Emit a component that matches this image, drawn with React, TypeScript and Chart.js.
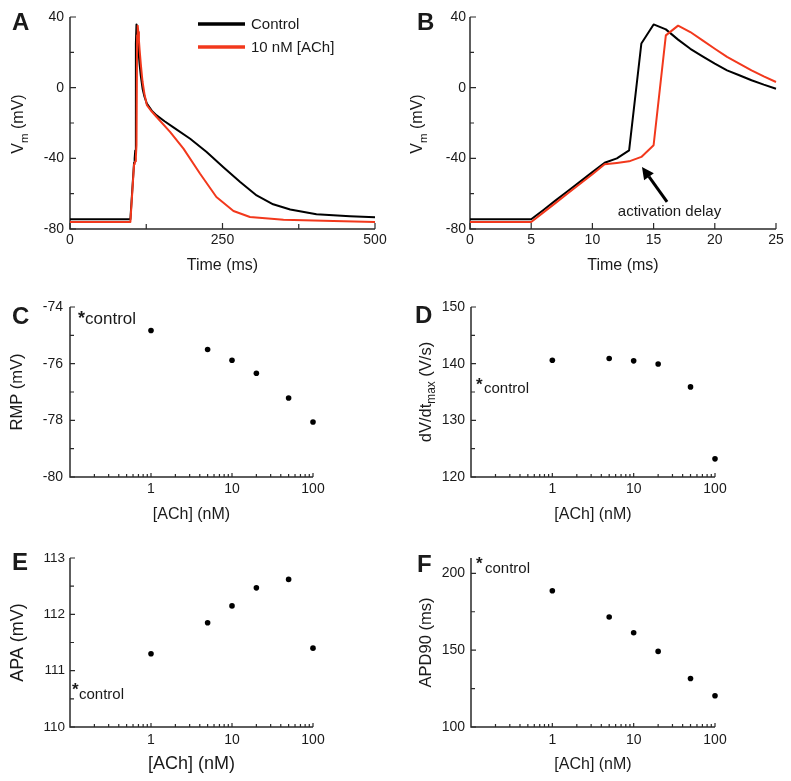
import React, { useEffect, useRef } from 'react';
import { Chart, registerables } from 'chart.js';

Chart.register(...registerables);

const FONT = '"Liberation Sans", Arial, Helvetica, sans-serif';
const INK = '#1a1a1a';
const AXIS = '#2a2a2a';
const BLACK = '#000000';
const RED = '#f2381c';

Chart.defaults.font.family = FONT;
Chart.defaults.color = INK;

// ---------- Panel A: full action potential (0-500 ms) ----------
const A_TIME_CONTROL = [0, 99, 105, 106, 107, 108, 109, 110, 111, 112, 114, 116, 119, 122, 126, 134, 142, 155, 169, 197, 224, 251, 279, 306, 333, 361, 404, 459, 500];
const A_VM_CONTROL = [-74.5, -74.5, -42.5, -40, -35.5, 25, 35.8, 33, 27.2, 22, 13.6, 7, -0.6, -5, -9, -13, -15.7, -19, -22.3, -28.9, -36.4, -44.9, -53.4, -61, -66, -69, -71.7, -72.8, -73.4];
const A_TIME_ACH = [0, 99, 105, 106, 107, 108, 109, 110, 111, 112, 113, 114, 116, 118, 119, 122, 126, 134, 142, 164, 186, 213, 240, 268, 295, 350, 432, 500];
const A_VM_ACH = [-76, -76, -43.4, -42.6, -41.7, -39.2, -32.6, 29.6, 35.1, 31.5, 26.8, 22, 13.6, 6.4, 3.2, -3.5, -9.9, -13.5, -16.6, -25, -34.5, -48.6, -61.9, -69.8, -73.2, -74.7, -75.5, -76];

// ---------- Panel B: upstroke detail (0-25 ms) ----------
const B_TIME_CONTROL = [0, 5, 6, 7, 8, 9, 10, 11, 12, 13, 14, 15, 16, 17, 18, 19, 20, 21, 22, 23, 24, 25];
const B_VM_CONTROL = [-74.5, -74.5, -69.2, -63.8, -58.5, -53.2, -47.8, -42.5, -40, -35.5, 25, 35.8, 33, 27.2, 22, 17.7, 13.6, 9.8, 7, 4.2, 1.7, -0.6];
const B_TIME_ACH = [0, 5, 6, 7, 8, 9, 10, 11, 12, 13, 14, 15, 16, 17, 18, 19, 20, 21, 22, 23, 24, 25];
const B_VM_ACH = [-76, -76, -70.6, -65.2, -59.8, -54.4, -49, -43.4, -42.6, -41.7, -39.2, -32.6, 29.6, 35.1, 31.5, 26.8, 22, 17.4, 13.6, 9.8, 6.4, 3.2];

// ---------- Panels C-F: dependence on [ACh] ----------
const ACH_NM = [1, 5, 10, 20, 50, 100];
const RMP_MV = [-74.83, -75.5, -75.88, -76.34, -77.21, -78.06];
const DVDT_MAX = [140.6, 140.9, 140.5, 139.95, 135.9, 123.2];
const APA_MV = [111.3, 111.85, 112.15, 112.47, 112.62, 111.4];
const APD90_MS = [188.7, 171.6, 161.3, 149.2, 131.6, 120.3];

// control levels (marked with *control on the y axis)
const CONTROL_RMP = -74.35;
const CONTROL_DVDT = 136.6;
const CONTROL_APA = 110.7;
const CONTROL_APD90 = 207.6;

// ---------- ticks ----------
const A_X_TICKS = [0, 125, 250, 375, 500];
const A_X_LABELS = [0, 250, 500];
const B_X_TICKS = [0, 5, 10, 15, 20, 25];
const B_X_LABELS = [0, 5, 10, 15, 20, 25];
const VM_TICKS = [-80, -60, -40, -20, 0, 20, 40];
const VM_LABELS = [-80, -40, 0, 40];
const LOG_TICKS = [0.2, 0.3, 0.4, 0.5, 0.6, 0.7, 0.8, 0.9, 1, 2, 3, 4, 5, 6, 7, 8, 9, 10, 20, 30, 40, 50, 60, 70, 80, 90, 100];
const LOG_LABELS = [1, 10, 100];
const RMP_TICKS = [-80, -79, -78, -77, -76, -75, -74];
const RMP_LABELS = [-80, -78, -76, -74];
const DVDT_TICKS = [120, 125, 130, 135, 140, 145, 150];
const DVDT_LABELS = [120, 130, 140, 150];
const APA_TICKS = [110, 110.5, 111, 111.5, 112, 112.5, 113];
const APA_LABELS = [110, 111, 112, 113];
const APD_TICKS = [100, 125, 150, 175, 200];
const APD_LABELS = [100, 150, 200];

const pts = (xs: number[], ys: number[]) => xs.map((x, i) => ({ x, y: ys[i] }));

function scaleOpts(o: {
  type: string; min: number; max: number; ticks: number[]; labels: number[];
  width?: number; height?: number; tickPad: number; tickSize?: number;
  title?: { text: string; size: number; pad: any };
}) {
  return {
    type: o.type,
    min: o.min,
    max: o.max,
    afterBuildTicks: (s: any) => { s.ticks = o.ticks.map((v) => ({ value: v })); },
    afterFit: (s: any) => {
      if (o.width !== undefined) s.width = o.width;
      if (o.height !== undefined) s.height = o.height;
    },
    grid: { display: false, drawTicks: false },
    border: { display: false },
    ticks: {
      autoSkip: false, maxRotation: 0, minRotation: 0, padding: o.tickPad, color: INK,
      font: { size: o.tickSize ?? 14 },
      callback: (v: number) => (o.labels.includes(v) ? String(v) : ''),
    },
    title: o.title
      ? { display: true, text: o.title.text, color: INK, font: { size: o.title.size }, padding: o.title.pad }
      : { display: false },
  };
}

function drawRotated(ctx: CanvasRenderingContext2D, cx: number, cy: number, parts: [string, boolean][], size: number) {
  ctx.save();
  ctx.translate(cx, cy);
  ctx.rotate(-Math.PI / 2);
  ctx.fillStyle = INK;
  ctx.textBaseline = 'middle';
  ctx.textAlign = 'left';
  const sub = size * 0.72;
  const widths = parts.map(([s, isSub]) => { ctx.font = `${isSub ? sub : size}px ${FONT}`; return ctx.measureText(s).width; });
  const total = widths.reduce((a, b) => a + b, 0);
  let x = -total / 2;
  parts.forEach(([s, isSub], i) => {
    ctx.font = `${isSub ? sub : size}px ${FONT}`;
    ctx.fillText(s, x, isSub ? size * 0.34 : 0);
    x += widths[i];
  });
  ctx.restore();
}

function drawControl(chart: any, value: number, starDx: number, starSize: number, textDx: number, textSize: number, baseDy: number) {
  const ctx: CanvasRenderingContext2D = chart.ctx;
  const left = chart.chartArea.left;
  const cy = chart.scales.y.getPixelForValue(value);
  ctx.save();
  ctx.fillStyle = INK;
  ctx.textAlign = 'left';
  ctx.textBaseline = 'alphabetic';
  ctx.font = `bold ${starSize}px ${FONT}`;
  ctx.fillText('*', left + starDx, cy + 0.42 * starSize);
  ctx.font = `${textSize}px ${FONT}`;
  ctx.fillText('control', left + textDx, cy + baseDy);
  ctx.restore();
}

function framePlugin(p: {
  letter: string; lx: number; ly: number;
  xMajor: number; xMinor: number; yMajor: number; yMinor: number;
  extra?: (chart: any) => void;
}) {
  return {
    id: 'frame',
    beforeDatasetsDraw(chart: any) {
      const ctx: CanvasRenderingContext2D = chart.ctx;
      const { left, right, top, bottom } = chart.chartArea;
      const xs = chart.scales.x;
      const ys = chart.scales.y;
      ctx.save();
      ctx.strokeStyle = AXIS;
      ctx.lineWidth = 1.5;
      ctx.beginPath();
      ctx.moveTo(left, top);
      ctx.lineTo(left, bottom);
      ctx.lineTo(right, bottom);
      ctx.stroke();
      ctx.lineWidth = 1.2;
      ctx.beginPath();
      xs.ticks.forEach((t: any) => {
        const px = xs.getPixelForValue(t.value);
        const len = t.label ? p.xMajor : p.xMinor;
        ctx.moveTo(px, bottom);
        ctx.lineTo(px, bottom - len);
      });
      ys.ticks.forEach((t: any) => {
        const py = ys.getPixelForValue(t.value);
        const len = t.label ? p.yMajor : p.yMinor;
        ctx.moveTo(left, py);
        ctx.lineTo(left + len, py);
      });
      ctx.stroke();
      ctx.restore();
    },
    afterDraw(chart: any) {
      const ctx: CanvasRenderingContext2D = chart.ctx;
      ctx.save();
      ctx.fillStyle = INK;
      ctx.font = `bold 24px ${FONT}`;
      ctx.textAlign = 'left';
      ctx.textBaseline = 'alphabetic';
      ctx.fillText(p.letter, p.lx, p.ly);
      ctx.restore();
      if (p.extra) p.extra(chart);
    },
  };
}

function makeConfig(o: { datasets: any[]; x: any; y: any; padding: any; plugin: any }) {
  return {
    type: 'scatter',
    data: { datasets: o.datasets },
    options: {
      responsive: false,
      maintainAspectRatio: false,
      animation: false,
      devicePixelRatio: 1,
      events: [],
      layout: { padding: o.padding },
      plugins: { legend: { display: false }, tooltip: { enabled: false }, title: { display: false } },
      scales: { x: o.x, y: o.y },
    },
    plugins: [o.plugin],
  };
}

const traceSet = (data: any[], color: string) => ({
  data, showLine: true, borderColor: color, backgroundColor: color, borderWidth: 2,
  pointRadius: 0, clip: false, tension: 0, borderJoinStyle: 'round',
});
const dotSet = (data: any[]) => ({
  data, showLine: false, pointRadius: 2.8, pointBackgroundColor: BLACK, pointBorderWidth: 0, clip: false,
});

// ----- panel configs -----
function configA() {
  return makeConfig({
    datasets: [
      traceSet(pts(A_TIME_ACH, A_VM_ACH), RED),
      traceSet(pts(A_TIME_CONTROL, A_VM_CONTROL), BLACK),
    ],
    x: scaleOpts({ type: 'linear', min: 0, max: 500, ticks: A_X_TICKS, labels: A_X_LABELS, height: 46, tickPad: 3, title: { text: 'Time (ms)', size: 16, pad: { top: 0, bottom: 0 } } }),
    y: scaleOpts({ type: 'linear', min: -80, max: 40, ticks: VM_TICKS, labels: VM_LABELS, width: 70, tickPad: 6 }),
    padding: { left: 0, top: 17, right: 20, bottom: 5 },
    plugin: framePlugin({
      letter: 'A', lx: 12, ly: 30, xMajor: 6, xMinor: 5, yMajor: 6, yMinor: 4,
      extra: (chart) => {
        const ctx: CanvasRenderingContext2D = chart.ctx;
        const { top, bottom } = chart.chartArea;
        drawRotated(ctx, 19, (top + bottom) / 2 + 1, [['V', false], ['m', true], [' (mV)', false]], 16);
        const rows: [string, string, number][] = [['Control', BLACK, 24], ['10 nM [ACh]', RED, 47]];
        ctx.save();
        rows.forEach(([label, color, y]) => {
          ctx.strokeStyle = color;
          ctx.lineWidth = 3.5;
          ctx.beginPath();
          ctx.moveTo(198, y);
          ctx.lineTo(245, y);
          ctx.stroke();
          ctx.fillStyle = INK;
          ctx.font = `15px ${FONT}`;
          ctx.textAlign = 'left';
          ctx.textBaseline = 'middle';
          ctx.fillText(label, 251, y + 1);
        });
        ctx.restore();
      },
    }),
  });
}

const ARROW_TIP = { t: 14.05, v: -44.9 };
const ARROW_TAIL = { t: 16.1, v: -64.7 };
const ARROW_LABEL = { t: 16.3, v: -70.4, text: 'activation delay' };

function configB() {
  return makeConfig({
    datasets: [
      traceSet(pts(B_TIME_ACH, B_VM_ACH), RED),
      traceSet(pts(B_TIME_CONTROL, B_VM_CONTROL), BLACK),
    ],
    x: scaleOpts({ type: 'linear', min: 0, max: 25, ticks: B_X_TICKS, labels: B_X_LABELS, height: 46, tickPad: 3, title: { text: 'Time (ms)', size: 16, pad: { top: 0, bottom: 0 } } }),
    y: scaleOpts({ type: 'linear', min: -80, max: 40, ticks: VM_TICKS, labels: VM_LABELS, width: 75, tickPad: 4 }),
    padding: { left: 0, top: 17, right: 15, bottom: 5 },
    plugin: framePlugin({
      letter: 'B', lx: 22, ly: 30, xMajor: 6, xMinor: 4, yMajor: 6, yMinor: 4,
      extra: (chart) => {
        const ctx: CanvasRenderingContext2D = chart.ctx;
        const { top, bottom } = chart.chartArea;
        const xs = chart.scales.x;
        const ys = chart.scales.y;
        drawRotated(ctx, 23, (top + bottom) / 2 + 1, [['V', false], ['m', true], [' (mV)', false]], 16);
        const tx = xs.getPixelForValue(ARROW_TIP.t), ty = ys.getPixelForValue(ARROW_TIP.v);
        const sx = xs.getPixelForValue(ARROW_TAIL.t), sy = ys.getPixelForValue(ARROW_TAIL.v);
        const ang = Math.atan2(ty - sy, tx - sx);
        const headLen = 12, headW = 6;
        const bx = tx - headLen * Math.cos(ang), by = ty - headLen * Math.sin(ang);
        ctx.save();
        ctx.strokeStyle = BLACK;
        ctx.fillStyle = BLACK;
        ctx.lineWidth = 3;
        ctx.beginPath();
        ctx.moveTo(sx, sy);
        ctx.lineTo(bx, by);
        ctx.stroke();
        ctx.beginPath();
        ctx.moveTo(tx, ty);
        ctx.lineTo(bx + headW * Math.sin(ang), by - headW * Math.cos(ang));
        ctx.lineTo(bx - headW * Math.sin(ang), by + headW * Math.cos(ang));
        ctx.closePath();
        ctx.fill();
        ctx.fillStyle = INK;
        ctx.font = `15px ${FONT}`;
        ctx.textAlign = 'center';
        ctx.textBaseline = 'middle';
        ctx.fillText(ARROW_LABEL.text, xs.getPixelForValue(ARROW_LABEL.t), ys.getPixelForValue(ARROW_LABEL.v));
        ctx.restore();
      },
    }),
  });
}

const achTitle = (size: number) => ({ text: '[ACh] (nM)', size, pad: { top: 0, bottom: 0 } });

function configC() {
  return makeConfig({
    datasets: [dotSet(pts(ACH_NM, RMP_MV))],
    x: scaleOpts({ type: 'logarithmic', min: 0.1, max: 100, ticks: LOG_TICKS, labels: LOG_LABELS, height: 47, tickPad: 4, title: achTitle(16) }),
    y: scaleOpts({ type: 'linear', min: -80, max: -74, ticks: RMP_TICKS, labels: RMP_LABELS, width: 70, tickPad: 7, title: { text: 'RMP (mV)', size: 16.5, pad: { top: 8, bottom: 0 } } }),
    padding: { left: 0, top: 27, right: 82, bottom: 6 },
    plugin: framePlugin({
      letter: 'C', lx: 12, ly: 44, xMajor: 4, xMinor: 3, yMajor: 5, yMinor: 4,
      extra: (chart) => drawControl(chart, CONTROL_RMP, 8, 18, 15, 17, 6.6),
    }),
  });
}

function configD() {
  return makeConfig({
    datasets: [dotSet(pts(ACH_NM, DVDT_MAX))],
    x: scaleOpts({ type: 'logarithmic', min: 0.1, max: 100, ticks: LOG_TICKS, labels: LOG_LABELS, height: 47, tickPad: 4, title: achTitle(16) }),
    y: scaleOpts({ type: 'linear', min: 120, max: 150, ticks: DVDT_TICKS, labels: DVDT_LABELS, width: 76, tickPad: 6 }),
    padding: { left: 0, top: 27, right: 76, bottom: 6 },
    plugin: framePlugin({
      letter: 'D', lx: 20, ly: 43, xMajor: 4, xMinor: 3, yMajor: 5, yMinor: 4,
      extra: (chart) => {
        const { top, bottom } = chart.chartArea;
        drawRotated(chart.ctx, 31, (top + bottom) / 2, [['dV/dt', false], ['max', true], [' (V/s)', false]], 16.5);
        drawControl(chart, CONTROL_DVDT, 5, 17, 13, 15, 10);
      },
    }),
  });
}

function configE() {
  return makeConfig({
    datasets: [dotSet(pts(ACH_NM, APA_MV))],
    x: scaleOpts({ type: 'logarithmic', min: 0.1, max: 100, ticks: LOG_TICKS, labels: LOG_LABELS, height: 48, tickPad: 5, title: achTitle(18) }),
    y: scaleOpts({ type: 'linear', min: 110, max: 113, ticks: APA_TICKS, labels: APA_LABELS, width: 70, tickPad: 5, tickSize: 13.5, title: { text: 'APA (mV)', size: 18, pad: { top: 7, bottom: 0 } } }),
    padding: { left: 0, top: 28, right: 82, bottom: 6 },
    plugin: framePlugin({
      letter: 'E', lx: 12, ly: 40, xMajor: 4, xMinor: 3, yMajor: 5, yMinor: 4,
      extra: (chart) => drawControl(chart, CONTROL_APA, 2, 17, 9, 15, 11),
    }),
  });
}

function configF() {
  return makeConfig({
    datasets: [dotSet(pts(ACH_NM, APD90_MS))],
    x: scaleOpts({ type: 'logarithmic', min: 0.1, max: 100, ticks: LOG_TICKS, labels: LOG_LABELS, height: 47, tickPad: 5, title: achTitle(16) }),
    y: scaleOpts({ type: 'linear', min: 100, max: 210, ticks: APD_TICKS, labels: APD_LABELS, width: 76, tickPad: 6, title: { text: 'APD90 (ms)', size: 16.5, pad: { top: 22, bottom: 0 } } }),
    padding: { left: 0, top: 28, right: 76, bottom: 7 },
    plugin: framePlugin({
      letter: 'F', lx: 22, ly: 42, xMajor: 4, xMinor: 3, yMajor: 5, yMinor: 4,
      extra: (chart) => drawControl(chart, CONTROL_APD90, 5, 17, 14, 15, 11),
    }),
  });
}

const PANELS = [
  { key: 'A', left: 0, top: 0, width: 395, height: 280, config: configA },
  { key: 'B', left: 395, top: 0, width: 396, height: 280, config: configB },
  { key: 'C', left: 0, top: 280, width: 395, height: 250, config: configC },
  { key: 'D', left: 395, top: 280, width: 396, height: 250, config: configD },
  { key: 'E', left: 0, top: 530, width: 395, height: 251, config: configE },
  { key: 'F', left: 395, top: 530, width: 396, height: 251, config: configF },
];

function Panel(props: { left: number; top: number; width: number; height: number; config: () => any }) {
  const ref = useRef<HTMLCanvasElement>(null);
  useEffect(() => {
    if (!ref.current) return;
    const chart = new Chart(ref.current, props.config() as any);
    return () => chart.destroy();
  }, []);
  return (
    <canvas
      ref={ref}
      width={props.width}
      height={props.height}
      style={{ position: 'absolute', left: props.left, top: props.top, width: props.width, height: props.height, display: 'block' }}
    />
  );
}

export default function App() {
  return (
    <div style={{ position: 'absolute', left: 0, top: 0, width: 791, height: 781, background: '#ffffff', overflow: 'hidden' }}>
      {PANELS.map((p) => (
        <Panel key={p.key} left={p.left} top={p.top} width={p.width} height={p.height} config={p.config} />
      ))}
    </div>
  );
}
